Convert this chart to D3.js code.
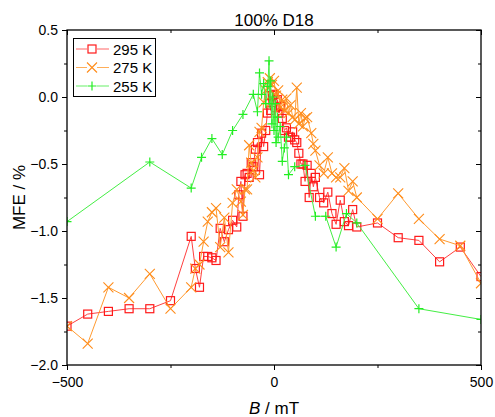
<!DOCTYPE html>
<html>
<head>
<meta charset="utf-8">
<script src="https://cdn.jsdelivr.net/npm/d3@7"></script>
<style>
  body { margin: 0; background: #fff; }
  svg { font-family: "Liberation Sans", Arial, sans-serif; }
</style>
</head>
<body>
<div id="chart"></div>
<script>
// data
const title = "100% D18";
const xTicks = [-500, 0, 500];
const yTicks = [0.5, 0.0, -0.5, -1.0, -1.5, -2.0];

const b295 = [-500,-450,-400,-350,-300,-250,-200,-190,-180,-170,-160,-150,-140,-130,-120,-110,-100,-90,-85,-80,-75,-70,-65,-60,-55,-50,-45,-40,-35,-30,-25,-20,-16,-12,-8,-4,0,4,8,12,16,20,25,30,35,40,45,50,55,60,65,70,75,80,85,90,95,100,110,120,130,140,150,160,170,180,190,200,250,300,350,400,450,500];
const mfe295 = [-1.71,-1.62,-1.60,-1.58,-1.58,-1.52,-1.04,-1.28,-1.42,-1.19,-1.19,-1.20,-1.22,-0.98,-1.08,-0.99,-0.92,-0.97,-0.73,-0.63,-0.89,-0.58,-0.57,-0.60,-0.49,-0.52,-0.39,-0.34,-0.58,-0.27,-0.37,-0.25,-0.12,0.01,-0.10,0.01,0.02,-0.08,-0.02,-0.12,-0.07,-0.16,-0.25,-0.23,-0.30,-0.30,-0.26,-0.32,-0.34,-0.42,-0.50,-0.50,-0.63,-0.51,-0.75,-0.57,-0.67,-0.60,-0.75,-0.79,-0.71,-0.87,-0.95,-0.77,-0.93,-0.96,-0.84,-0.97,-0.94,-1.05,-1.07,-1.23,-1.12,-1.34];

const b275 = [-500,-450,-400,-350,-300,-250,-200,-190,-180,-170,-160,-150,-140,-130,-120,-110,-100,-90,-80,-75,-70,-65,-60,-55,-50,-45,-40,-35,-30,-25,-20,-15,-10,-5,0,5,10,15,20,25,30,35,40,45,50,55,60,65,70,75,80,90,95,100,110,120,130,140,150,160,170,180,190,200,250,300,350,400,450,500];
const mfe275 = [-1.71,-1.84,-1.42,-1.50,-1.32,-1.58,-1.42,-1.28,-1.25,-1.08,-0.93,-0.86,-0.83,-1.12,-0.90,-1.16,-0.79,-0.69,-0.78,-0.88,-0.69,-0.69,-0.36,-0.49,-0.55,-0.60,-0.45,-0.26,-0.23,-0.04,0.05,0.11,0.14,0.09,0.12,0.01,0.05,-0.08,-0.02,-0.10,-0.01,-0.12,-0.06,-0.15,-0.17,0.07,-0.20,-0.12,-0.22,-0.16,-0.15,-0.27,-0.35,-0.40,-0.51,-0.57,-0.45,-0.57,-0.60,-0.60,-0.53,-0.70,-0.63,-0.75,-0.91,-0.72,-0.91,-1.06,-1.11,-1.39];

const b255 = [-500,-300,-200,-175,-150,-125,-100,-75,-50,-40,-35,-30,-25,-20,-15,-12,-10,-8,-5,-3,0,3,5,8,10,15,20,25,30,35,50,75,100,125,150,175,200,350,500];
const mfe255 = [-0.93,-0.485,-0.68,-0.45,-0.31,-0.43,-0.25,-0.13,0.02,-0.11,0.18,0.02,0.10,-0.05,0.08,0.27,-0.05,0.12,-0.20,0.0,-0.25,-0.05,-0.34,-0.15,-0.30,-0.22,-0.48,-0.38,-0.30,-0.58,-0.52,-0.51,-0.89,-0.89,-1.12,-0.87,-0.94,-1.58,-1.66];

const seriesNames = ["295 K", "275 K", "255 K"];
const seriesColors = ["#ff1a1a", "#ff8c1a", "#22ee22"];
const lineColors = ["#ff4040", "#ff9a30", "#44ee44"];
const seriesShapes = ["square", "cross", "plus"];

const W = 495, H = 417;
const margin = { top: 30, right: 14, bottom: 52, left: 67 };

const svg = d3.select("#chart").append("svg")
  .attr("width", W).attr("height", H);

const x = d3.scaleLinear().domain([-500, 500]).range([margin.left, W - margin.right]);
const y = d3.scaleLinear().domain([-2.0, 0.5]).range([H - margin.bottom, margin.top]);

const plotW = W - margin.left - margin.right;
const plotH = H - margin.top - margin.bottom;

// clip for marks
svg.append("defs").append("clipPath").attr("id", "clip")
  .append("rect").attr("x", margin.left).attr("y", margin.top)
  .attr("width", plotW).attr("height", plotH);

// marker drawing
function drawMarker(g, shape, color) {
  if (shape === "square") {
    g.append("rect").attr("x", -4).attr("y", -4).attr("width", 8).attr("height", 8)
      .attr("fill", "none").attr("stroke", color).attr("stroke-width", 1.2);
  } else if (shape === "cross") {
    g.append("path").attr("d", "M-5,-5L5,5M-5,5L5,-5")
      .attr("fill", "none").attr("stroke", color).attr("stroke-width", 1.1);
  } else {
    g.append("path").attr("d", "M-4.5,0L4.5,0M0,-4.5L0,4.5")
      .attr("fill", "none").attr("stroke", color).attr("stroke-width", 1.2);
  }
}

const allSeries = [
  { b: b295, v: mfe295 },
  { b: b275, v: mfe275 },
  { b: b255, v: mfe255 }
];

const marks = svg.append("g").attr("clip-path", "url(#clip)");
const line = d3.line().x(d => x(d[0])).y(d => y(d[1]));

allSeries.forEach(function (s, k) {
  let pts = s.b.map((b, i) => [b, s.v[i]]);
  let g = marks.append("g");
  g.append("path").datum(pts)
    .attr("d", line)
    .attr("fill", "none")
    .attr("stroke", lineColors[k])
    .attr("stroke-width", 1);
  g.selectAll(".pt").data(pts).enter().append("g")
    .attr("transform", d => "translate(" + x(d[0]) + "," + y(d[1]) + ")")
    .each(function () { drawMarker(d3.select(this), seriesShapes[k], seriesColors[k]); });
});

// frame
svg.append("rect").attr("x", margin.left).attr("y", margin.top)
  .attr("width", plotW).attr("height", plotH)
  .attr("fill", "none").attr("stroke", "#000").attr("stroke-width", 1.3);

const fontFam = "Liberation Sans, Arial, sans-serif";

// bottom axis (outward ticks)
svg.append("g").attr("transform", "translate(0," + (H - margin.bottom) + ")")
  .call(d3.axisBottom(x).tickValues(xTicks).tickSize(5).tickPadding(7).tickFormat(d3.format("d")))
  .call(g => g.select(".domain").remove())
  .call(g => g.selectAll("text").attr("font-size", 14).attr("fill", "#000").attr("font-family", fontFam));
svg.append("g").attr("transform", "translate(0," + (H - margin.bottom) + ")")
  .call(d3.axisBottom(x).tickValues([-250, 250]).tickSize(3).tickFormat(""))
  .call(g => g.select(".domain").remove());

// top axis (inward ticks)
svg.append("g").attr("transform", "translate(0," + margin.top + ")")
  .call(d3.axisBottom(x).tickValues(xTicks).tickSize(5).tickFormat(""))
  .call(g => g.select(".domain").remove());
svg.append("g").attr("transform", "translate(0," + margin.top + ")")
  .call(d3.axisBottom(x).tickValues([-250, 250]).tickSize(3).tickFormat(""))
  .call(g => g.select(".domain").remove());

// left axis
svg.append("g").attr("transform", "translate(" + margin.left + ",0)")
  .call(d3.axisLeft(y).tickValues(yTicks).tickSize(5).tickPadding(4).tickFormat(d3.format(".1f")))
  .call(g => g.select(".domain").remove())
  .call(g => g.selectAll("text").attr("font-size", 14).attr("fill", "#000").attr("font-family", fontFam));
svg.append("g").attr("transform", "translate(" + margin.left + ",0)")
  .call(d3.axisLeft(y).tickValues([0.25, -0.25, -0.75, -1.25, -1.75]).tickSize(3).tickFormat(""))
  .call(g => g.select(".domain").remove());

// right axis (inward)
svg.append("g").attr("transform", "translate(" + (W - margin.right) + ",0)")
  .call(d3.axisLeft(y).tickValues(yTicks).tickSize(5).tickFormat(""))
  .call(g => g.select(".domain").remove());
svg.append("g").attr("transform", "translate(" + (W - margin.right) + ",0)")
  .call(d3.axisLeft(y).tickValues([0.25, -0.25, -0.75, -1.25, -1.75]).tickSize(3).tickFormat(""))
  .call(g => g.select(".domain").remove());

svg.selectAll(".tick line").attr("stroke", "#000");

// title
svg.append("text")
  .attr("x", (margin.left + W - margin.right) / 2)
  .attr("y", 26)
  .attr("text-anchor", "middle")
  .attr("font-size", 17)
  .text(title);

// x label
let xl = svg.append("text")
  .attr("x", (margin.left + W - margin.right) / 2)
  .attr("y", 414)
  .attr("text-anchor", "middle")
  .attr("font-size", 17);
xl.append("tspan").attr("font-style", "italic").text("B");
xl.append("tspan").text(" / mT");

// y label
svg.append("text")
  .attr("transform", "translate(25," + (y(-0.75)) + ") rotate(-90)")
  .attr("text-anchor", "middle")
  .attr("font-size", 17)
  .text("MFE / %");

// legend
let legend = svg.append("g");
legend.append("rect").attr("x", 73.5).attr("y", 38.5).attr("width", 82).attr("height", 58)
  .attr("fill", "#fff").attr("stroke", "#000").attr("stroke-width", 1);
seriesNames.forEach(function (name, k) {
  let ly = 49 + k * 18.5;
  legend.append("line").attr("x1", 76).attr("x2", 109).attr("y1", ly).attr("y2", ly)
    .attr("stroke", lineColors[k]).attr("stroke-width", 1.2).attr("opacity", 0.8);
  let m = legend.append("g").attr("transform", "translate(92," + ly + ")");
  m.append("rect").attr("x", -5).attr("y", -5).attr("width", 10).attr("height", 10).attr("fill", "#fff");
  drawMarker(m, seriesShapes[k], seriesColors[k]);
  legend.append("text").attr("x", 113).attr("y", ly + 5.5).attr("font-size", 15).text(name);
});
</script>
</body>
</html>
